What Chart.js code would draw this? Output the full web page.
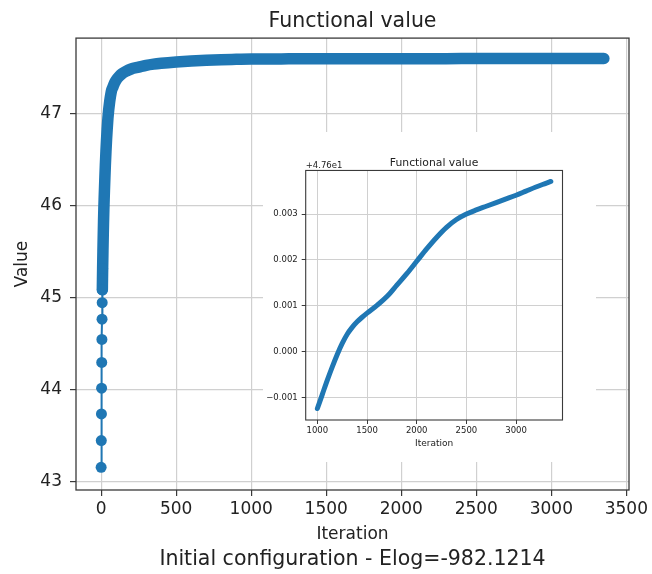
<!DOCTYPE html>
<html>
<head>
<meta charset="utf-8">
<script src="https://cdn.jsdelivr.net/npm/chart.js@4.4.0/dist/chart.umd.min.js"></script>
<style>
html,body{margin:0;padding:0;background:#fff}
#wrap{position:relative;width:652px;height:574px}
#mainChart{position:absolute;left:0;top:0}
#insetChart{position:absolute;left:263px;top:132px;background:#fff}
</style>
</head>
<body>
<div id="wrap">
<canvas id="mainChart" width="652" height="574"></canvas>
<canvas id="insetChart" width="333" height="330"></canvas>
</div>
<script>
// DATA
const iterations=[0,1,2,3,4,5,6,7,8,9,10,12,14,16,18,20,22,25,28,32,36,40,45,50,55,60,70,80,90,100,120,140,160,200,250,300,350,400,500,600,700,800,900,
  1000,1050,1100,1150,1200,1250,1300,1350,1400,1450,1500,1600,1700,1800,1900,2000,2100,2200,2300,2400,2500,2600,2700,2800,2900,3000,3100,3200,3300,3350];
const values=[43.16,43.45,43.74,44.02,44.30,44.55,44.77,44.95,45.09,45.21,45.32,45.51,45.68,45.83,45.96,46.07,46.17,46.31,46.44,46.59,46.72,46.83,46.95,47.04,47.11,47.17,47.26,47.30,47.34,47.37,47.41,47.44,47.46,47.49,47.51,47.53,47.543,47.552,47.566,47.577,47.585,47.591,47.595,
  47.59876,47.59907,47.59938,47.59967,47.59994,47.60018,47.60038,47.60053,47.60065,47.60075,47.60084,47.60101,47.60120,47.60145,47.60170,47.60197,47.60224,47.60249,47.60271,47.60288,47.60300,47.60309,47.60317,47.60325,47.60333,47.60341,47.60350,47.60359,47.60367,47.60371];
const mainXTicks=[0,500,1000,1500,2000,2500,3000,3500];
const mainYTicks=[43,44,45,46,47];
const insetXTicks=[1000,1500,2000,2500,3000];
const insetYTicks=[-0.001,0,0.001,0.002,0.003];
const insetOffset=47.6;   // shown as "+4.76e1"
const insetFrom=1000;    // inset starts at this iteration
const earlyCount=11;     // first iterations drawn as separate markers

const ff='"DejaVu Sans", sans-serif';
const blue='#1f77b4';
const txt='#222';
const gridCol='#d0d0d0';
const frameCol='#3a3a3a';

const pts=iterations.map((x,i)=>({x,y:values[i]}));

// box round the plot area (all four spines)
const framePlugin={
  id:'frame',
  afterDatasetsDraw(chart,args,opts){
    const {ctx,chartArea:a}=chart;
    ctx.save();
    ctx.strokeStyle=opts.color;ctx.lineWidth=opts.width;
    ctx.strokeRect(a.left,a.top,a.right-a.left,a.bottom-a.top);
    if(opts.offsetText){
      ctx.fillStyle=txt;ctx.font='8.5px '+ff;ctx.textAlign='left';ctx.textBaseline='bottom';
      ctx.fillText(opts.offsetText,a.left,a.top);
    }
    ctx.restore();
  }
};

// MAIN CHART
new Chart(document.getElementById('mainChart'),{
  type:'line',
  data:{datasets:[
    {data:pts.slice(0,earlyCount),borderColor:blue,backgroundColor:blue,borderWidth:2,pointRadius:5.5,pointBorderWidth:0,pointHoverRadius:5.5},
    {data:pts.slice(8),borderColor:blue,backgroundColor:blue,borderWidth:11.5,pointRadius:0,borderCapStyle:'round',borderJoinStyle:'round',cubicInterpolationMode:'monotone'}
  ]},
  options:{
    responsive:false,animation:false,
    layout:{padding:{left:0,right:23,top:0,bottom:0}},
    plugins:{
      legend:{display:false},tooltip:{enabled:false},
      title:{display:true,fullSize:false,text:'Functional value',color:txt,font:{family:ff,size:20.5,weight:'normal'},padding:{top:9,bottom:4.5}},
      subtitle:{display:true,fullSize:false,position:'bottom',text:'Initial configuration - Elog=-982.1214',color:txt,font:{family:ff,size:20.5,weight:'normal'},padding:{top:2.5,bottom:1.9}},
      frame:{color:frameCol,width:1.3}
    },
    scales:{
      x:{type:'linear',min:-167.5,max:3517.5,
        afterBuildTicks:s=>{s.ticks=mainXTicks.map(v=>({value:v}))},
        afterFit:s=>{s.height=55},
        grid:{color:gridCol,lineWidth:1.2,tickLength:6,tickColor:frameCol,tickWidth:1.2},
        border:{display:false},
        ticks:{color:txt,font:{family:ff,size:17},padding:3,maxRotation:0,autoSkip:false,callback:v=>String(v)},
        title:{display:true,text:'Iteration',color:txt,font:{family:ff,size:17},padding:{top:0,bottom:0.5}}
      },
      y:{type:'linear',min:42.913,max:47.826,
        afterBuildTicks:s=>{s.ticks=mainYTicks.map(v=>({value:v}))},
        afterFit:s=>{s.width=76},
        grid:{color:gridCol,lineWidth:1.2,tickLength:6,tickColor:frameCol,tickWidth:1.2},
        border:{display:false},
        ticks:{color:txt,font:{family:ff,size:17},padding:8,callback:v=>String(v)},
        title:{display:true,text:'Value',color:txt,font:{family:ff,size:17},padding:{top:12,bottom:0}}
      }
    }
  },
  plugins:[framePlugin]
});

// INSET (iterations from 1000 on, minus the offset)
const insetPts=pts.filter(p=>p.x>=insetFrom).map(p=>({x:p.x,y:p.y-insetOffset}));
new Chart(document.getElementById('insetChart'),{
  type:'line',
  data:{datasets:[
    {data:insetPts,borderColor:blue,backgroundColor:blue,borderWidth:5,pointRadius:0,borderCapStyle:'round',borderJoinStyle:'round',cubicInterpolationMode:'monotone'}
  ]},
  options:{
    responsive:false,animation:false,
    layout:{padding:{left:0,right:33.5,top:0,bottom:0}},
    plugins:{
      legend:{display:false},tooltip:{enabled:false},
      title:{display:true,fullSize:false,text:'Functional value',color:txt,font:{family:ff,size:10.8,weight:'normal'},padding:{top:24.5,bottom:1}},
      frame:{color:frameCol,width:1.1,offsetText:'+4.76e1'}
    },
    scales:{
      x:{type:'linear',min:882.5,max:3467.5,
        afterBuildTicks:s=>{s.ticks=insetXTicks.map(v=>({value:v}))},
        afterFit:s=>{s.height=42},
        grid:{color:gridCol,lineWidth:1,tickLength:4,tickColor:frameCol,tickWidth:1},
        border:{display:false},
        ticks:{color:txt,font:{family:ff,size:8.5},padding:2,maxRotation:0,autoSkip:false,callback:v=>String(v)},
        title:{display:true,text:'Iteration',color:txt,font:{family:ff,size:9},padding:{top:0,bottom:13}}
      },
      y:{type:'linear',min:-0.00149,max:0.00395,
        afterBuildTicks:s=>{s.ticks=insetYTicks.map(v=>({value:v}))},
        afterFit:s=>{s.width=42.7},
        grid:{color:gridCol,lineWidth:1,tickLength:4,tickColor:frameCol,tickWidth:1},
        border:{display:false},
        ticks:{color:txt,font:{family:ff,size:8.5},padding:4,callback:v=>v.toFixed(3).replace('-','\u2212')}
      }
    }
  },
  plugins:[framePlugin]
});
</script>
</body>
</html>
